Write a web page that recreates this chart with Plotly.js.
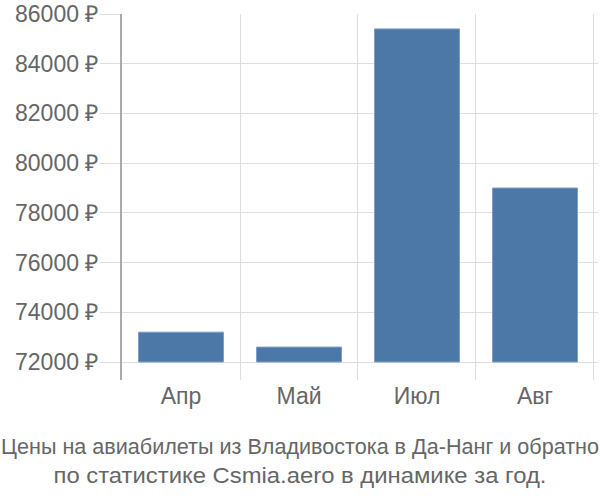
<!DOCTYPE html>
<html><head><meta charset="utf-8">
<script src="https://cdn.plot.ly/plotly-3.0.1.min.js"></script>
<style>html,body{margin:0;padding:0;background:#fff}</style>
</head><body>
<div id="chart" style="width:600px;height:500px"></div>
<script>
const months = ["Апр", "Май", "Июл", "Авг"];
const prices = [73200, 72600, 85400, 79000];
const baseValue = 72000;
const yTicks = [72000, 74000, 76000, 78000, 80000, 82000, 84000, 86000];
const yTickText = yTicks.map(v => v + " ₽");
const titleLines = ["Цены на авиабилеты из Владивостока в Да-Нанг и обратно", "по статистике Csmia.aero в динамике за год."];

const trace = {
  type: "bar",
  x: months,
  y: prices.map(v => v - baseValue),
  base: baseValue,
  width: 0.72,
  marker: {color: "#4c78a8", line: {color: "#7e9ec4", width: 1}},
  hoverinfo: "skip"
};

const layout = {
  width: 600, height: 500,
  margin: {l: 122, r: 2, t: 14, b: 120},
  paper_bgcolor: "#fff", plot_bgcolor: "#fff",
  showlegend: false,
  font: {family: "Liberation Sans, Arial, sans-serif", color: "#666"},
  title: {
    text: titleLines.join("<br>"),
    font: {family: "Liberation Sans, Arial, sans-serif", size: 22, color: "#666"},
    x: 0.5, xanchor: "center", y: 0.092, yanchor: "middle"
  },
  xaxis: {
    type: "category",
    range: [-0.5, 3.534],
    tickson: "boundaries",
    showgrid: true, gridcolor: "#dedede", gridwidth: 1,
    ticks: "", showline: false, zeroline: false,
    tickfont: {size: 23, color: "#666"},
    ticklabelstandoff: 0
  },
  yaxis: {
    range: [71276, 86000],
    tickvals: yTicks, ticktext: yTickText,
    showgrid: true, gridcolor: "#dedede", gridwidth: 1,
    ticks: "outside", ticklen: 20, tickcolor: "#dedede", tickwidth: 1,
    showline: true, linecolor: "#aaaaaa", linewidth: 2,
    zeroline: false,
    tickfont: {size: 23, color: "#666"},
    ticklabelstandoff: -3
  }
};

Plotly.newPlot("chart", [trace], layout, {displayModeBar: false, staticPlot: true}).then(gd => {
  const widths = [598, 493];
  const lines = gd.querySelectorAll(".gtitle tspan.line");
  lines.forEach((t, i) => {
    if (widths[i]) {
      t.setAttribute("textLength", widths[i]);
      t.setAttribute("lengthAdjust", "spacingAndGlyphs");
    }
  });
});
</script>
</body></html>
